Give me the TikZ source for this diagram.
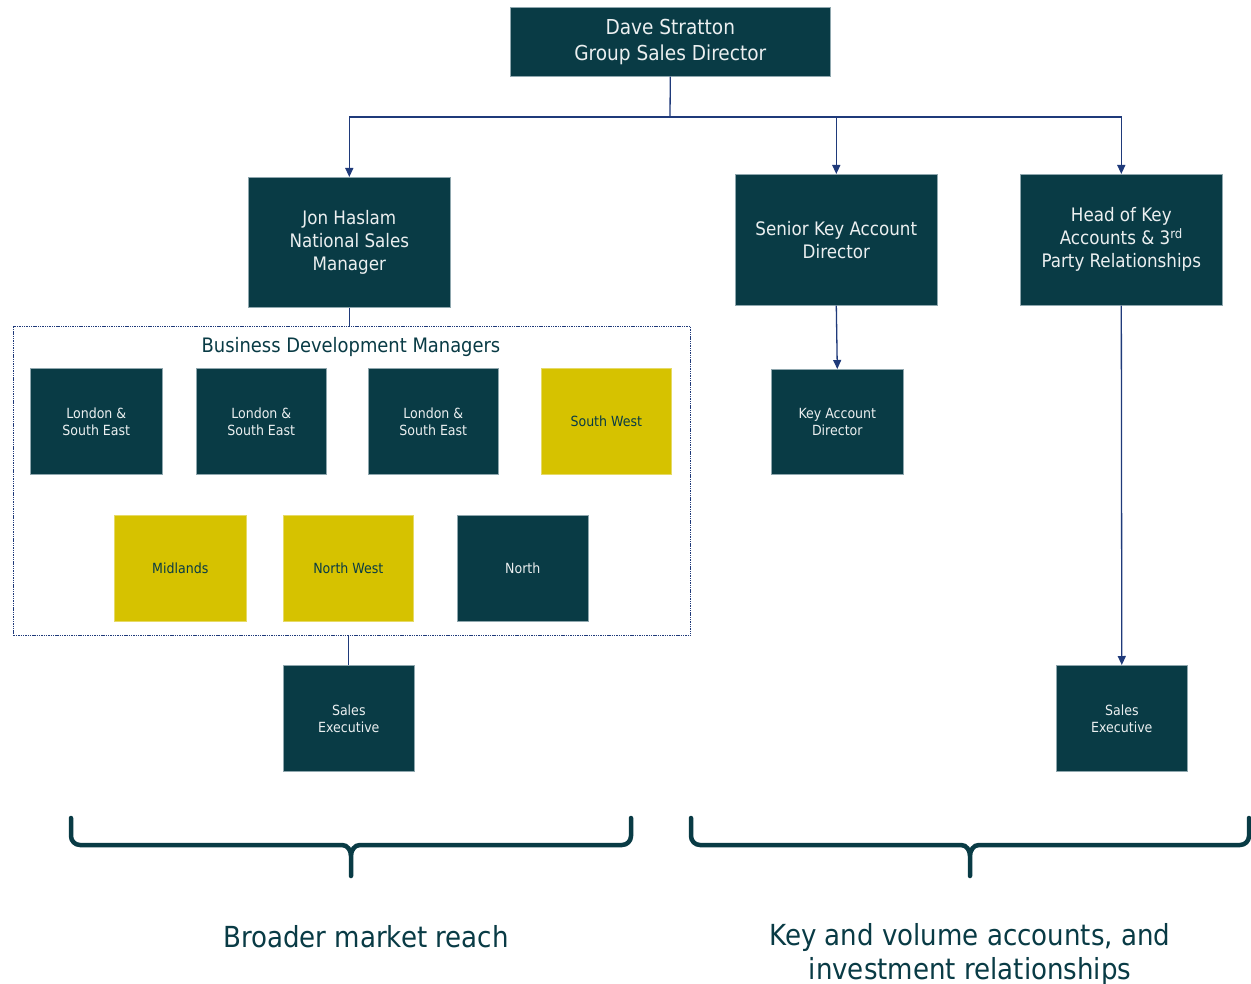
\documentclass[tikz,border=0pt]{standalone}
\usepackage{fontspec}
\setmainfont{DejaVu Sans Condensed}
\usetikzlibrary{arrows.meta}
\definecolor{dteal}{HTML}{093B45}
\definecolor{gold}{HTML}{D6C200}
\definecolor{navy}{HTML}{1F3A7A}
\definecolor{edge}{HTML}{8FA7AE}
\begin{document}
\begin{tikzpicture}[x=1pt,y=-1pt,
  box/.style={draw=edge,line width=0.6pt,fill=dteal,text=white!92!dteal,align=center,inner sep=0pt,anchor=north west},
  ybox/.style={box,fill=gold,text=dteal,draw=gold!60!white},
  fbig/.style={font=\fontsize{20.6}{26}\selectfont},
  fmid/.style={font=\fontsize{18.6}{23}\selectfont},
  fsmall/.style={font=\fontsize{14}{17}\selectfont},
  conn/.style={draw=navy,line width=1.3pt},
  arr/.style={conn,-{Triangle[length=9pt,width=8pt]}},
  brace/.style={draw=dteal,line width=4.5pt,line cap=round,line join=round},
  captxt/.style={text=dteal,font=\fontsize{29}{34}\selectfont,align=center}]
\useasboundingbox (0,0) rectangle (1251,984);
\fill[white] (0,0) rectangle (1251,984);
% top
\node[box,fbig,minimum width=320pt,minimum height=69pt] (top) at (510,7) {Dave Stratton\\Group Sales Director};
\node[box,fmid,minimum width=202pt,minimum height=130pt] (jon) at (248,177) {Jon Haslam\\National Sales\\Manager};
\node[box,fmid,minimum width=202pt,minimum height=131pt] (skad) at (735,174) {Senior Key Account\\Director};
\node[box,fmid,minimum width=202pt,minimum height=131pt] (head) at (1020,174) {Head of Key\\Accounts \& 3\textsuperscript{rd}\\Party Relationships};
% dotted group
\node[draw=navy,dash pattern=on 1.4pt off 0.9pt,line width=1.4pt,minimum width=677pt,minimum height=309pt,inner sep=0pt,anchor=north west] (bdm) at (13,326) {};
\node[text=dteal,font=\fontsize{19.9}{22}\selectfont,anchor=center] (bdmt) at (351,347) {Business Development Managers};
\node[box,fsmall,minimum width=132pt,minimum height=106pt] (b1) at (30,368) {London \&\\South East};
\node[box,fsmall,minimum width=130pt,minimum height=106pt] (b2) at (196,368) {London \&\\South East};
\node[box,fsmall,minimum width=130pt,minimum height=106pt] (b3) at (368,368) {London \&\\South East};
\node[ybox,fsmall,minimum width=130pt,minimum height=106pt] (b4) at (541,368) {South West};
\node[ybox,fsmall,minimum width=132pt,minimum height=106pt] (b5) at (114,515) {Midlands};
\node[ybox,fsmall,minimum width=130pt,minimum height=106pt] (b6) at (283,515) {North West};
\node[box,fsmall,minimum width=131pt,minimum height=106pt] (b7) at (457,515) {North};
\node[box,fsmall,minimum width=131pt,minimum height=106pt] (se1) at (283,665) {Sales\\Executive};
\node[box,fsmall,minimum width=132pt,minimum height=105pt] (kad) at (771,369) {Key Account\\Director};
\node[box,fsmall,minimum width=131pt,minimum height=106pt] (se2) at (1056,665) {Sales\\Executive};
% connectors
\coordinate (j) at (670,117);
\draw[conn] (top.south) -- (j);
\draw[arr] (j) -| (jon.north);
\draw[arr] (j) -| (skad.north);
\draw[arr] (j) -| (head.north);
\draw[conn] (jon.south) -- (jon.south |- bdm.north);
\draw[conn] (se1.north |- bdm.south) -- (se1.north);
\draw[arr] (skad.south) -- (kad.north);
\draw[arr] (head.south) -- (se2.north);
% braces
\draw[brace] (71,818) -- (71,836) to[out=-90,in=180] (80,845) -- (342,845) to[out=0,in=90] (351,856) -- (351,876)
  (351,856) to[out=90,in=180] (360,845) -- (622,845) to[out=0,in=-90] (631,836) -- (631,818);
\draw[brace] (691,818) -- (691,836) to[out=-90,in=180] (700,845) -- (961,845) to[out=0,in=90] (970,856) -- (970,876)
  (970,856) to[out=90,in=180] (979,845) -- (1240,845) to[out=0,in=-90] (1249,836) -- (1249,818);
\node[captxt] (c1) at (366,937) {Broader market reach};
\node[captxt,anchor=north] (c2) at (970,920) {Key and volume accounts, and\\investment relationships};
\end{tikzpicture}
\end{document}
